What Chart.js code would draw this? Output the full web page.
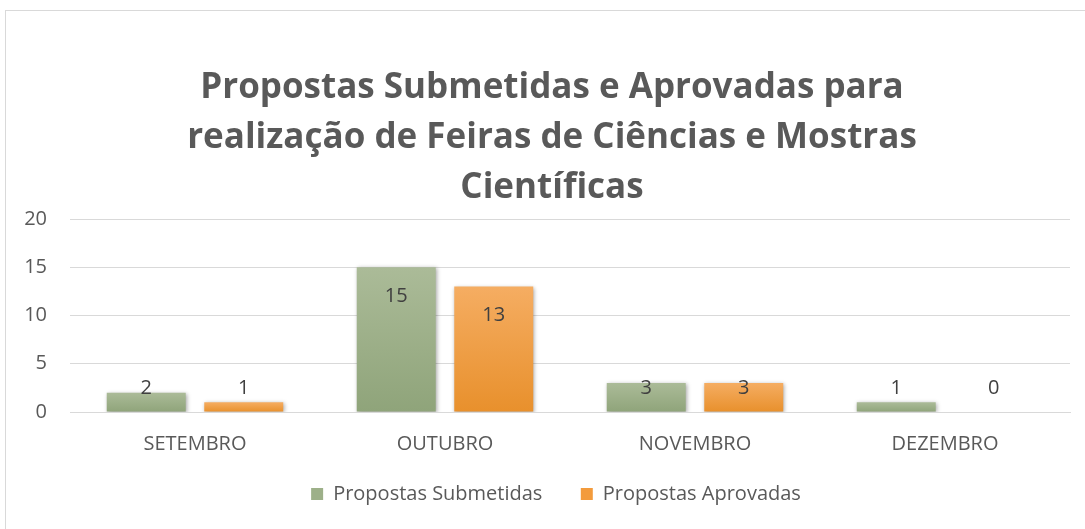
<!DOCTYPE html>
<html>
<head>
<meta charset="utf-8">
<script src="https://cdn.jsdelivr.net/npm/chart.js@4.4.1/dist/chart.umd.min.js"></script>
<style>
  html, body { margin: 0; padding: 0; background: #fff; overflow: hidden; }
  #frame { position: absolute; left: 5px; top: 10px; width: 1200px; height: 600px; border: 1px solid #d9d9d9; box-sizing: border-box; }
  #wrap { position: absolute; left: 0; top: 0; width: 1085px; height: 529px; }
</style>
</head>
<body>
<div id="frame"></div>
<div id="wrap"><canvas id="myChart"></canvas></div>
<script>
var months = ["SETEMBRO", "OUTUBRO", "NOVEMBRO", "DEZEMBRO"];
var submetidas = [2, 15, 3, 1];
var aprovadas = [1, 13, 3, 0];
var titleLines = ["Propostas Submetidas e Aprovadas para", "realização de Feiras de Ciências e Mostras", "Científicas"];

var font = "'Open Sans', 'Liberation Sans', sans-serif";

// vertical gradient per bar, built from the y scale
var barGradient = function (top, bottom) {
    return function (c) {
        var chart = c.chart;
        var y = chart.scales.y;
        if (!y || c.raw === undefined) return bottom;
        var y0 = y.getPixelForValue(c.raw);
        var y1 = y.getPixelForValue(0);
        if (!isFinite(y0) || y1 - y0 < 1) return bottom;
        var g = chart.ctx.createLinearGradient(0, y0, 0, y1);
        g.addColorStop(0, top);
        g.addColorStop(1, bottom);
        return g;
    };
};

var shadow = {
    id: "shadow",
    beforeDatasetsDraw: function (chart) {
        var ctx = chart.ctx;
        ctx.save();
        ctx.shadowColor = "rgba(0,0,0,0.35)";
        ctx.shadowBlur = 4;
        ctx.shadowOffsetX = 1;
        ctx.shadowOffsetY = 1;
    },
    afterDatasetsDraw: function (chart) {
        chart.ctx.restore();
    }
};

var labels = {
    id: "labels",
    afterDatasetsDraw: function (chart) {
        var ctx = chart.ctx;
        var yScale = chart.scales.y;
        var limit = yScale.getPixelForValue(0) - 24;
        ctx.save();
        ctx.fillStyle = "#404040";
        ctx.font = "20px " + font;
        ctx.textAlign = "center";
        ctx.textBaseline = "middle";
        chart.data.datasets.forEach(function (ds, i) {
            chart.getDatasetMeta(i).data.forEach(function (bar, j) {
                var ty = Math.min(bar.y + 29, limit);
                ctx.fillText(String(ds.data[j]), bar.x, ty);
            });
        });
        ctx.restore();
    }
};

// title and legend sit a bit right of the plot centre in the original
var boxShift = {
    id: "boxShift",
    afterLayout: function (chart) {
        chart.titleBlock.left += 7;
        chart.titleBlock.right += 7;
        chart.legend.left += 11;
        chart.legend.right += 11;
    }
};

var legendBox = function (chart) {
    var cols = ["#9db089", "#f39b3c"];
    return chart.data.datasets.map(function (ds, i) {
        return {
            text: i === 0 ? ds.label + "  " : ds.label,
            fillStyle: cols[i],
            strokeStyle: cols[i],
            lineWidth: 0,
            fontColor: "#595959",
            datasetIndex: i
        };
    });
};

window.onload = function () {
    var ctx = document.getElementById("myChart").getContext("2d");
    new Chart(ctx, {
        type: "bar",
        data: {
            labels: months,
            datasets: [{
                label: "Propostas Submetidas",
                data: submetidas,
                backgroundColor: barGradient("#abbb98", "#8fa47a"),
                categoryPercentage: 0.78,
                barPercentage: 0.81
            }, {
                label: "Propostas Aprovadas",
                data: aprovadas,
                backgroundColor: barGradient("#f5ad62", "#e8902c"),
                categoryPercentage: 0.78,
                barPercentage: 0.81
            }]
        },
        options: {
            responsive: true,
            maintainAspectRatio: false,
            animation: false,
            layout: { padding: { left: 20, right: 15, top: 0, bottom: 15 } },
            plugins: {
                title: {
                    display: true,
                    text: titleLines,
                    color: "#595959",
                    font: { family: font, size: 35, weight: "bold", lineHeight: 50 / 35 },
                    padding: { top: 63, bottom: 6 }
                },
                legend: {
                    position: "bottom",
                    labels: {
                        color: "#595959",
                        font: { family: font, size: 20 },
                        boxWidth: 12,
                        boxHeight: 12,
                        padding: 28,
                        generateLabels: legendBox
                    }
                },
                tooltip: { enabled: false }
            },
            scales: {
                x: {
                    grid: { display: false, drawTicks: false },
                    border: { color: "#d9d9d9" },
                    ticks: { color: "#595959", font: { family: font, size: 20 }, padding: 20 },
                    afterFit: function (scale) { scale.height = 44; }
                },
                y: {
                    min: 0,
                    max: 20,
                    ticks: { stepSize: 5, color: "#595959", font: { family: font, size: 20 }, padding: 23 },
                    grid: { color: "#d9d9d9", drawTicks: false },
                    border: { display: false },
                    afterFit: function (scale) { scale.width = 50; }
                }
            }
        },
        plugins: [shadow, labels, boxShift]
    });
};
</script>
</body>
</html>
